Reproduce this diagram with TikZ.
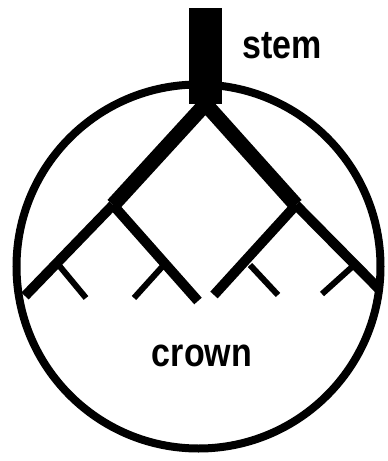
\documentclass[tikz,border=0pt]{standalone}
\usepackage{fontspec}
\setmainfont{Liberation Sans}
\usepackage{tikz}
\usetikzlibrary{calc}
\definecolor{ink}{HTML}{000000}
\tikzset{
  rim/.style={draw=ink, line width=8pt},
  trunk/.style={draw=ink, line width=33pt},
  limb/.style={draw=ink, line width=15pt, line join=miter},
  bough/.style={draw=ink, line width=10pt},
  twig/.style={draw=ink, line width=6pt},
  lbl/.style={font=\fontsize{40}{44}\selectfont\bfseries, text=ink, inner sep=0pt, xscale=0.85},
}
\begin{document}
\begin{tikzpicture}[x=1pt, y=-1pt]
  \useasboundingbox (0,0) rectangle (388,461);
  % crown outline
  \node[rim, circle, minimum size=364pt, inner sep=0pt] (ring) at (198.5,266.5) {};
  % stem and forks
  \coordinate (stemtop) at (205.5,8);
  \coordinate (stembase) at (205.5,104);
  \coordinate (forkL) at (113,205);
  \coordinate (forkR) at (296,205);
  \coordinate (tipLL) at (25,296);
  \coordinate (tipLR) at (198,301);
  \coordinate (tipRL) at (214,295);
  \coordinate (tipRR) at (379,289);
  \draw[limb] (forkL) -- (stembase) -- (forkR);
  \draw[trunk] (stemtop) -- (stembase);
  \draw[bough] (forkL) -- (tipLL);
  \draw[bough] (forkL) -- (tipLR);
  \draw[bough] (forkR) -- (tipRL);
  \draw[bough] (forkR) -- (tipRR);
  % small twigs
  \coordinate (jLL) at (57,263);  \coordinate (eLL) at (86,298);
  \coordinate (jLR) at (162,267); \coordinate (eLR) at (134,298);
  \coordinate (jRL) at (250,265); \coordinate (eRL) at (278,295);
  \coordinate (jRR) at (352,267); \coordinate (eRR) at (322,294);
  \draw[twig] (jLL) -- (eLL);
  \draw[twig] (jLR) -- (eLR);
  \draw[twig] (jRL) -- (eRL);
  \draw[twig] (jRR) -- (eRR);
  % labels
  \node[lbl] (stem) at (282,46) {stem};
  \node[lbl] (crown) at (202,356) {crown};
\end{tikzpicture}
\end{document}
